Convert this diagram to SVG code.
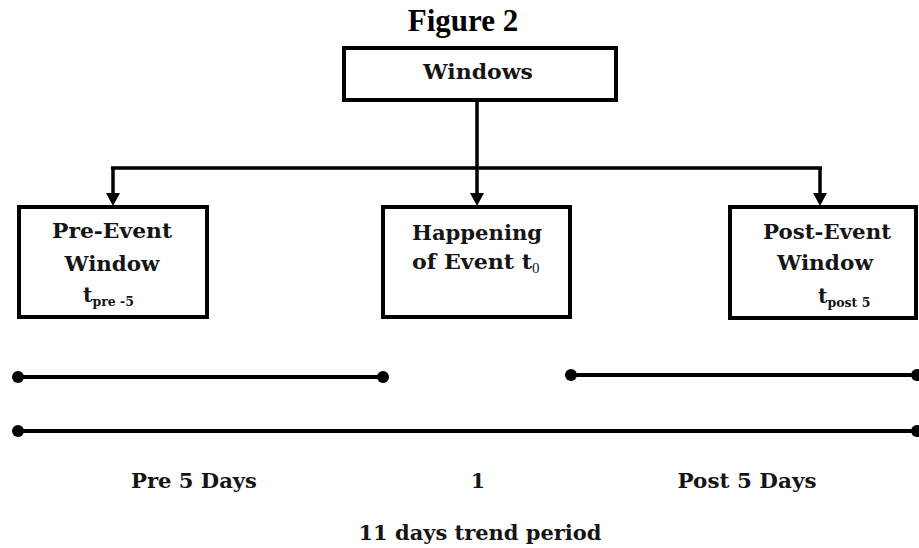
<svg xmlns="http://www.w3.org/2000/svg" width="919" height="548" viewBox="0 0 919 548">
<style>
.box{fill:#fff;stroke:#000;stroke-width:4}
.lbl{font-family:"DejaVu Serif","Liberation Serif",serif;font-weight:bold;font-size:20.5px;fill:#151515;text-anchor:middle}
.sub{font-family:"DejaVu Serif","Liberation Serif",serif;font-weight:bold;font-size:12.5px;fill:#151515}
.title{font-family:"Liberation Serif","Times New Roman",serif;font-weight:bold;font-size:31px;fill:#000;text-anchor:middle}
.ln{stroke:#000;stroke-width:3.5;fill:none}
.tl{stroke:#000;stroke-width:4;fill:none}
.dot{fill:#000}
</style>
<rect width="919" height="548" fill="#fff"/>
<text class="title" x="463" y="31">Figure 2</text>
<g id="connectors">
<line class="ln" x1="477" y1="101" x2="477" y2="168"/>
<line class="ln" x1="111" y1="168" x2="822" y2="168"/>
<path d="M113,168 V193" class="ln"/>
<path d="M106,193 L120,193 L113,206 Z" class="dot"/>
<path d="M477,168 V193" class="ln"/>
<path d="M470,193 L484,193 L477,206 Z" class="dot"/>
<path d="M820,168 V193" class="ln"/>
<path d="M813,193 L827,193 L820,206 Z" class="dot"/>
</g>
<g id="windows">
<rect class="box" x="344" y="48" width="272" height="52"/>
<text class="lbl" x="478" y="79" textLength="110" lengthAdjust="spacingAndGlyphs">Windows</text>
</g>
<g id="pre-event">
<rect class="box" x="19" y="207" width="188" height="110"/>
<text class="lbl" x="112" y="238" textLength="120" lengthAdjust="spacingAndGlyphs">Pre-Event</text>
<text class="lbl" x="112" y="271" textLength="95" lengthAdjust="spacingAndGlyphs">Window</text>
<text class="lbl" x="83" y="302" style="text-anchor:start">t<tspan class="sub" dy="4">pre -5</tspan></text>
</g>
<g id="happening">
<rect class="box" x="383" y="207" width="187" height="110"/>
<text class="lbl" x="477" y="240" textLength="130" lengthAdjust="spacingAndGlyphs">Happening</text>
<text class="lbl" x="412" y="269" style="text-anchor:start" textLength="120" lengthAdjust="spacingAndGlyphs">of Event t</text>
<text x="532" y="273" style="font-family:'Liberation Serif',serif;font-size:15px;fill:#151515">0</text>
</g>
<g id="post-event">
<rect class="box" x="730" y="207" width="186" height="111"/>
<text class="lbl" x="827" y="239" textLength="128" lengthAdjust="spacingAndGlyphs">Post-Event</text>
<text class="lbl" x="825" y="270" textLength="96" lengthAdjust="spacingAndGlyphs">Window</text>
<text class="lbl" x="818" y="303" style="text-anchor:start">t<tspan class="sub" dy="4">post 5</tspan></text>
</g>
<g id="timeline">
<line class="tl" x1="18" y1="377" x2="383" y2="377"/>
<circle class="dot" cx="18" cy="377" r="6"/>
<circle class="dot" cx="383" cy="377" r="6"/>
<line class="tl" x1="571" y1="375" x2="917" y2="375"/>
<circle class="dot" cx="571" cy="375" r="6"/>
<circle class="dot" cx="917" cy="375" r="6"/>
<line class="tl" x1="18" y1="431" x2="917" y2="431"/>
<circle class="dot" cx="18" cy="431" r="6"/>
<circle class="dot" cx="917" cy="431" r="6"/>
</g>
<g id="labels">
<text class="lbl" x="194" y="488" textLength="126" lengthAdjust="spacingAndGlyphs">Pre 5 Days</text>
<text class="lbl" x="478" y="488">1</text>
<text class="lbl" x="747" y="488" textLength="139" lengthAdjust="spacingAndGlyphs">Post 5 Days</text>
<text class="lbl" x="480" y="540" textLength="243" lengthAdjust="spacingAndGlyphs">11 days trend period</text>
</g>
</svg>
